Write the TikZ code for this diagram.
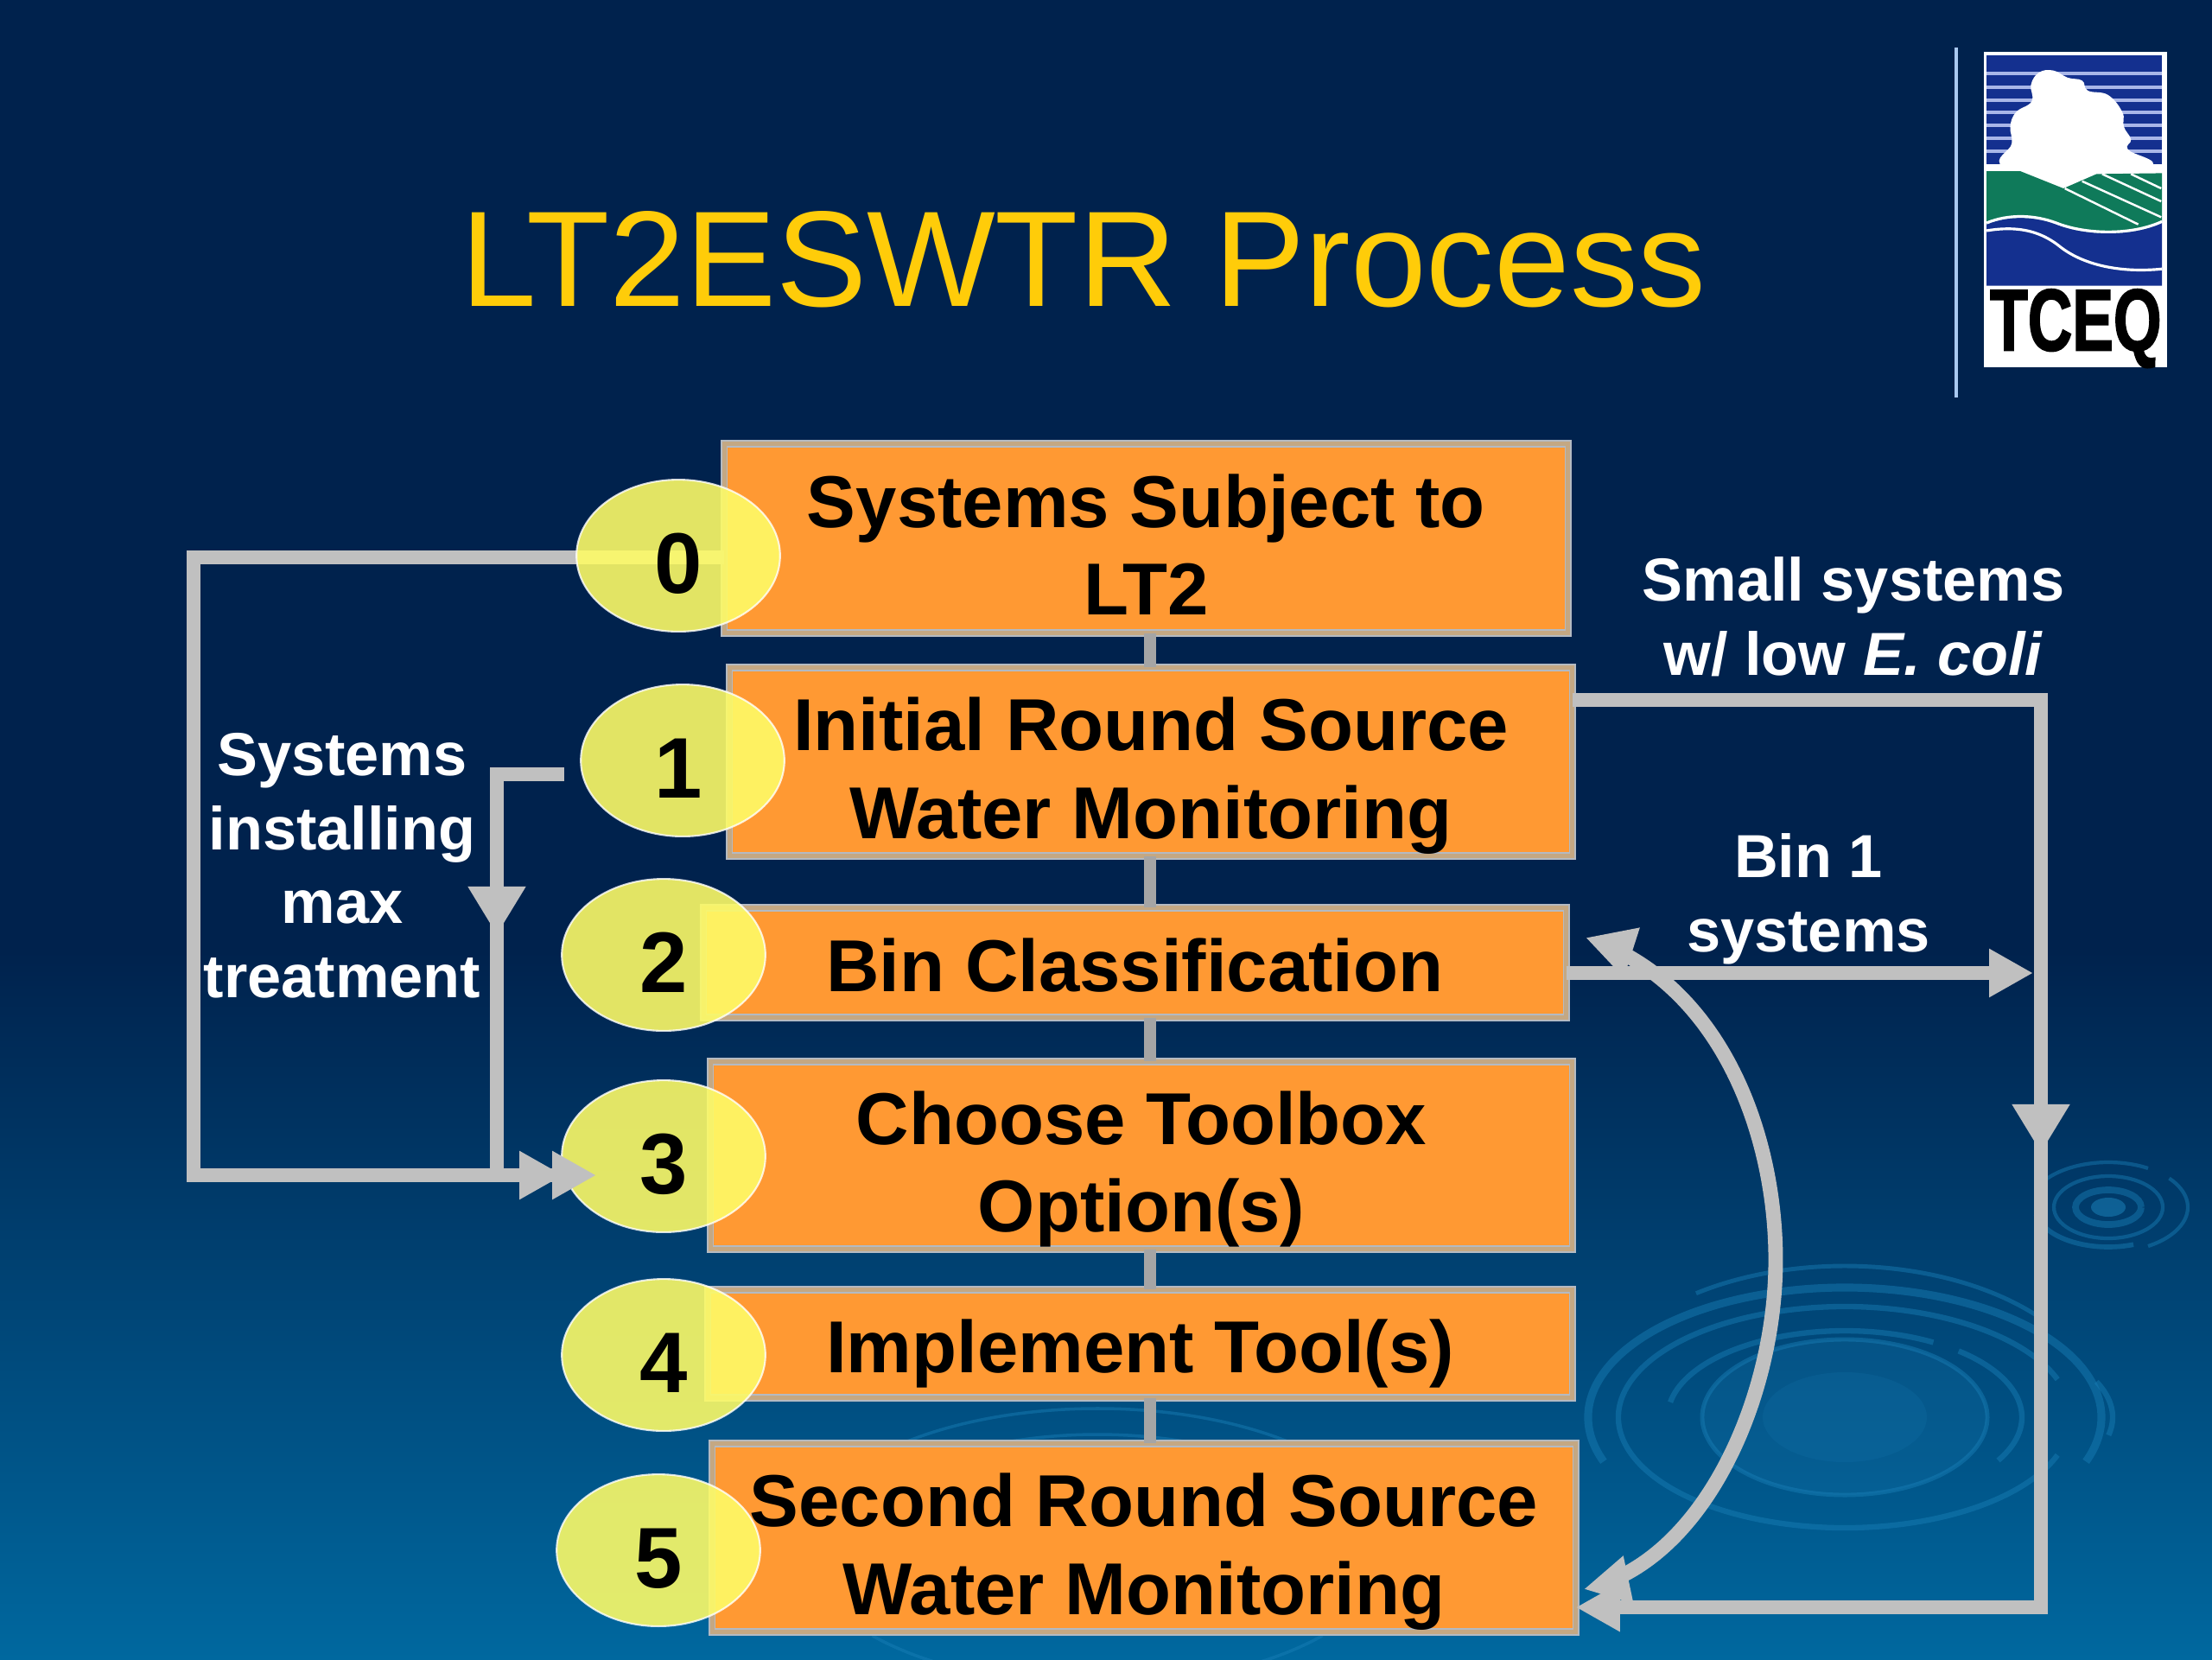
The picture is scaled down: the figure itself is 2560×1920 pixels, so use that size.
\documentclass[tikz,border=0pt]{standalone}
\usepackage{fontspec}
\setmainfont{Liberation Sans}
\newfontfamily\tceqfont[BoldFeatures={FakeStretch=0.70,FakeBold=1.5}]{Liberation Sans}
\usetikzlibrary{arrows.meta,bending,shapes.geometric}
\definecolor{bgtop}{HTML}{00224D}
\definecolor{bgbot}{HTML}{00689F}
\definecolor{ringcol}{HTML}{1A80B8}
\definecolor{wirecol}{HTML}{C0C0C0}
\definecolor{spinecol}{HTML}{A5A5A5}
\definecolor{boxfill}{HTML}{FF9933}
\definecolor{boxedge}{HTML}{B4BAC2}
\definecolor{boxband}{HTML}{C4A883}
\definecolor{ballfill}{HTML}{FEFC67}
\definecolor{titlecol}{HTML}{FFCC09}
\definecolor{logoblue}{HTML}{14308F}
\definecolor{logostripe}{HTML}{A9B6E8}
\definecolor{logogreen}{HTML}{0F7A5A}
\definecolor{rulecol}{HTML}{A8C8F0}
\tikzset{
  wire/.style={draw=wirecol,line width=4.8pt,line join=miter},
  spine/.style={draw=spinecol,line width=4.2pt},
  tipA/.style={-{Triangle[width=15pt,length=14.5pt]}},
  tipB/.style={-{Triangle[width=18pt,length=16pt]}},
  tipC/.style={{Triangle[width=16pt,length=16pt,flex=0]}-{Triangle[width=15pt,length=15pt,flex=0]}},
  stepbox/.style={rectangle,fill=boxfill,draw=boxedge,line width=.5pt,double=boxband,
    double distance=1.4pt,inner sep=0pt,outer sep=0pt,align=center,
    font=\fontsize{24.2}{29}\selectfont\bfseries,text=black,text depth=0pt},
  twoline/.style={text height=50.6pt},
  oneline/.style={text height=19pt},
  ball/.style={ellipse,fill=ballfill,fill opacity=.89,text opacity=1,draw=white,draw opacity=.8,
    line width=.6pt,inner sep=0pt,outer sep=0pt,minimum width=67pt,minimum height=50pt,
    font=\fontsize{28.3}{30}\selectfont\bfseries,text=black,text height=24.5pt,text depth=0pt},
  note/.style={align=center,anchor=base,text=white,inner sep=0pt,
    font=\fontsize{20}{24.3}\selectfont\bfseries},
  ring/.style={draw=ringcol,draw opacity=.45,line width=#1},
  ring/.default=1.4pt
}
\newcommand{\flowbox}[7]{\node[stepbox,#6,minimum width={(#4-#2-9)*0.2845pt},
  minimum height={(#5-#3-9)*0.2845pt}] (#1) at ({(#2+#4)/2},{(#3+#5)/2}) {#7};}
\newcommand{\ripple}[7][1.4pt]{\draw[ring=#1] (#2,#3) ++(#6:#4 and #5)
  arc[start angle=#6,end angle=#7,x radius=#4,y radius=#5];}
\begin{document}
\begin{tikzpicture}[x=0.01cm,y=-0.01cm]
\useasboundingbox (0,0) rectangle (2560,1920);
% background
\fill[bgtop] (0,0) rectangle (2560,1101);
\shade[top color=bgtop,bottom color=bgbot] (0,1100) rectangle (2560,1920);
% ripples, large
\fill[ringcol,opacity=.2] (2135,1640) ellipse (165 and 90);
\fill[ringcol,opacity=.16] (2135,1640) ellipse (95 and 52);
\ripple[2.6pt]{2135}{1640}{297}{150}{-200}{20}
\ripple[1.8pt]{2135}{1640}{262}{128}{20}{340}
\ripple[1.4pt]{2135}{1640}{300}{175}{-125}{-40}
\ripple[1.8pt]{2135}{1640}{205}{100}{-170}{-60}
\ripple[1.8pt]{2135}{1640}{205}{100}{-50}{30}
\ripple[1.4pt]{2135}{1640}{165}{90}{-200}{160}
\ripple[1.8pt]{2135}{1640}{310}{120}{-20}{10}
% ripples, small
\fill[ringcol,opacity=.55] (2440,1397) ellipse (20 and 11);
\ripple[2.2pt]{2440}{1397}{38}{20}{0}{360}
\ripple[1.2pt]{2440}{1397}{63}{36}{0}{360}
\ripple[1.2pt]{2440}{1397}{92}{52}{-150}{-60}
\ripple[1.2pt]{2440}{1397}{92}{52}{-40}{60}
\ripple[1.6pt]{2440}{1397}{85}{46}{70}{170}
% ripples, behind the boxes
\ripple[1pt]{1270}{1790}{340}{160}{-150}{-30}
\ripple[1pt]{1270}{1790}{290}{130}{-150}{-50}
\ripple[1pt]{1270}{1790}{340}{160}{40}{140}
% title
\node[anchor=base,inner sep=0pt,text=titlecol,font=\fontsize{44.8}{50}\selectfont] (title) at (1254,354) {LT2ESWTR Process};
% logo
\coordinate (ruleA) at (2264,55);
\coordinate (ruleB) at (2264,460);
\draw[rulecol,line width=.9pt] (ruleA) -- (ruleB);
\begin{scope}[shift={(2200,30)},x=0.003333cm,y=-0.003333cm]
  \fill[white] (287,90) rectangle (925,1188);
  \fill[logoblue] (298,103) rectangle (908,480);
  \foreach \yy in {165,212,258,300,345,390,435}
    \fill[logostripe] (298,\yy-6) rectangle (908,\yy+6);
  \fill[white] plot[smooth cycle,tension=.7] coordinates {(355,490) (385,410) (380,350) (400,300) (455,262) (452,205) (480,162) (530,155) (580,180) (630,190) (650,225) (720,240) (770,300) (775,350) (800,395) (790,430) (870,490) (600,560)};
  \fill[logogreen] (298,505) -- (415,505) -- (565,565) -- (680,515) -- (908,512) -- (908,685)
    .. controls (800,735) and (640,730) .. (540,690) .. controls (460,660) and (370,660) .. (298,690) -- cycle;
  \foreach \xa/\ya/\xb/\yb in {570/565/825/690, 630/540/905/665, 700/515/905/610, 800/515/905/565}
    \draw[white,line width=.7pt] (\xa,\ya) -- (\xb,\yb);
  \fill[logoblue] (298,690) .. controls (370,660) and (460,660) .. (540,690) .. controls (640,730) and (800,735) .. (908,685) -- (908,903) -- (298,903) -- cycle;
  \draw[white,line width=.9pt] (298,685) .. controls (370,655) and (460,655) .. (540,685) .. controls (640,725) and (800,730) .. (908,680);
  \draw[white,line width=.9pt] (298,712) .. controls (400,695) and (480,710) .. (550,765) .. controls (630,830) and (760,860) .. (908,845);
  \node[inner sep=0pt,text=black,font=\fontsize{29}{31}\selectfont\tceqfont\bfseries] (logotext) at (608,1052) {TCEQ};
\end{scope}
% boxes
\flowbox{b0}{834}{509}{1819}{737}{twoline}{Systems Subject to\\LT2}
\flowbox{b1}{840}{768}{1824}{995}{twoline}{Initial Round Source\\Water Monitoring}
\flowbox{b2}{810}{1046}{1817}{1182}{oneline}{Bin Classification}
\flowbox{b3}{818}{1224}{1824}{1450}{twoline}{Choose Toolbox\\Option(s)}
\flowbox{b4}{815}{1488}{1824}{1622}{oneline}{Implement Tool(s)}
\flowbox{b5}{820}{1666}{1828}{1893}{twoline}{Second Round Source\\Water Monitoring}
% spine between the boxes
\coordinate (sp) at (1331,0);
\draw[spine] (sp |- b0.south) -- (sp |- b1.north);
\draw[spine] (sp |- b1.south) -- (sp |- b2.north);
\draw[spine] (sp |- b2.south) -- (sp |- b3.north);
\draw[spine] (sp |- b3.south) -- (sp |- b4.north);
\draw[spine] (sp |- b4.south) -- (sp |- b5.north);
% numbered balls
\node[ball] (e1) at (790,880) {\kern-2.8pt 1};
\node[ball] (e2) at (768,1105) {2};
\node[ball] (e3) at (768,1338) {3};
\node[ball] (e4) at (768,1568) {4};
\node[ball] (e5) at (762,1794) {5};
% connectors
\coordinate (l0) at (224,645);
\coordinate (l1) at (224,1360);
\coordinate (t3) at (690,1360);
\coordinate (w1) at (653,896);
\coordinate (d1) at (575,1082);
\coordinate (d1s) at (575,1040);
\coordinate (t2) at (652,1360);
\coordinate (r1) at (2362,810);
\coordinate (r2) at (2362,1334);
\coordinate (r2s) at (2362,1290);
\coordinate (r3) at (2362,1860);
\coordinate (bt) at (2353,1126);
\coordinate (cT) at (1835,1085);
\coordinate (cM) at (2055,1458);
\coordinate (cB) at (1833,1839);
\draw[wire,tipA] (b0.west |- l0) -- (l0) -- (l1) -- (t3);
\draw[wire,tipB] (w1) -| (d1);
\draw[wire,tipA] (d1s) |- (t2);
\draw[wire,tipB] (b1.east |- r1) -- (r1) -- (r2);
\draw[wire,tipA] (r2s) -- (r3) -- (b5.east |- r3);
\draw[wire,tipA] (b2.east |- bt) -- (bt);
\draw[wire,tipC] (cT) .. controls (1990,1135) and (2055,1310) .. (cM) .. controls (2055,1620) and (1970,1810) .. (cB);
\node[ball] (e0) at (785,643) {0};
% notes
\node[note] (n1) at (2145,781) {Small systems\\w/ low \textit{E. coli}};
\node[note] (n2) at (2093,1101) {Bin 1\\systems};
\node[note] (n3) at (396,1154) {Systems\\installing\\max\\treatment};
\end{tikzpicture}
\end{document}
